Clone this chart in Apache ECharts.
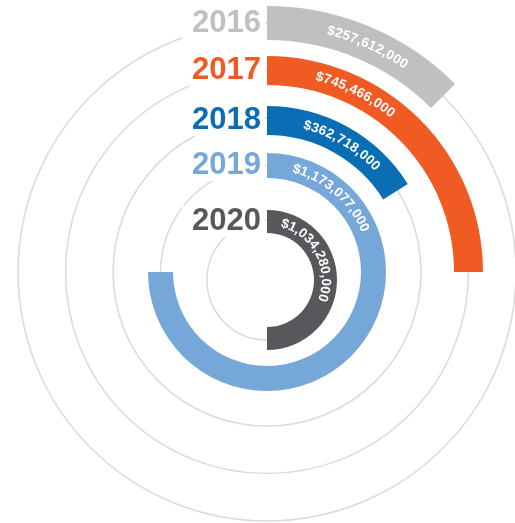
<!DOCTYPE html>
<html>
<head>
<meta charset="utf-8">
<script src="https://cdn.jsdelivr.net/npm/echarts@6/dist/echarts.min.js"></script>
<style>
  html, body { margin: 0; background: #fff; }
  #chart { width: 515px; height: 523px; }
</style>
</head>
<body>
<div id="chart"></div>
<script>
// data
const years = ['2016', '2017', '2018', '2019', '2020'];
const amounts = ['$257,612,000', '$745,466,000', '$362,718,000', '$1,173,077,000', '$1,034,280,000'];
const arcDegrees = [45, 90, 58, 270, 180];

// look
const colors = ['#c0c0c1', '#f05a23', '#0b6eb5', '#75a7d9', '#56585b'];
const centers = [[267, 272], [267, 272], [267, 272], [267, 272], [267, 280]];
const rings = [[232, 266], [187, 216], [137, 166], [94, 119], [47, 70]];
const guideColor = '#dadada';
const valueFont = 'bold 13.5px "Liberation Sans", Arial, sans-serif';
const letterGap = 0.4;
const textStartDeg = 14;

const chart = echarts.init(document.getElementById('chart'));

const ctx = document.createElement('canvas').getContext('2d');
ctx.font = valueFont;

const hiddenAngle = (i) => ({
  polarIndex: i,
  type: 'value',
  min: 0,
  max: 360,
  startAngle: 90,
  clockwise: true,
  show: false
});

// curved amount text along each bar
function arcText(k) {
  return function (params, api) {
    const cs = params.coordSys;
    const r = (cs.r + cs.r0) / 2;
    let a = textStartDeg;
    const children = [];
    for (const ch of amounts[k]) {
      const w = ctx.measureText(ch).width + letterGap;
      const mid = a + (w / 2) / r * 180 / Math.PI;
      const p = api.coord([0, mid]);
      children.push({
        type: 'text',
        x: p[0],
        y: p[1],
        rotation: -mid * Math.PI / 180,
        style: {
          text: ch,
          fill: '#fff',
          font: valueFont,
          align: 'center',
          verticalAlign: 'middle'
        }
      });
      a += w / r * 180 / Math.PI;
    }
    return { type: 'group', children };
  };
}

const polar = [];
const angleAxis = [];
const radiusAxis = [];
const series = [];

years.forEach((y, k) => {
  polar.push({ center: centers[k], radius: rings[k] });
  angleAxis.push(hiddenAngle(k));
  radiusAxis.push({
    polarIndex: k,
    type: 'category',
    data: [y],
    z: 5,
    axisLine: { show: false },
    axisTick: { show: false },
    splitLine: { show: false },
    axisLabel: {
      margin: 2,
      color: colors[k],
      fontSize: 31,
      fontWeight: 'bold',
      fontFamily: 'Liberation Sans',
      backgroundColor: '#fff',
      padding: [0, 4, 0, 10]
    }
  });
  series.push({
    type: 'bar',
    coordinateSystem: 'polar',
    polarIndex: k,
    barWidth: '100%',
    data: [arcDegrees[k]],
    itemStyle: { color: colors[k] },
    silent: true
  });
});

// thin guide circles behind the bars
polar.push({ center: [267, 272], radius: [106.5, 249] });
angleAxis.push(hiddenAngle(5));
radiusAxis.push({
  polarIndex: 5,
  type: 'value',
  min: 0,
  max: 3,
  interval: 1,
  z: 0,
  axisLine: { show: false },
  axisTick: { show: false },
  axisLabel: { show: false },
  splitLine: { show: true, lineStyle: { color: guideColor, width: 1.5 } }
});
polar.push({ center: [267, 280], radius: [0, 60] });
angleAxis.push(hiddenAngle(6));
radiusAxis.push({
  polarIndex: 6,
  type: 'value',
  min: 0,
  max: 1,
  interval: 1,
  z: 0,
  axisLine: { show: false },
  axisTick: { show: false },
  axisLabel: { show: false },
  splitLine: { show: true, lineStyle: { color: guideColor, width: 1.5 } }
});

years.forEach((y, k) => {
  series.push({
    type: 'custom',
    coordinateSystem: 'polar',
    polarIndex: k,
    z: 4,
    silent: true,
    data: [[0, arcDegrees[k]]],
    renderItem: arcText(k)
  });
});

chart.setOption({
  animation: false,
  backgroundColor: '#fff',
  polar,
  angleAxis,
  radiusAxis,
  series
});
window.addEventListener('resize', chart.resize);
</script>
</body>
</html>
